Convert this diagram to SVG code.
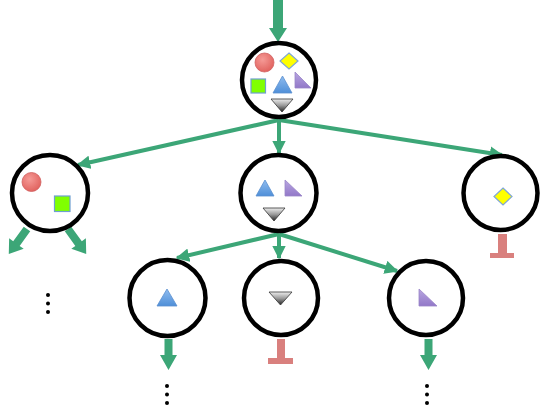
<svg xmlns="http://www.w3.org/2000/svg" width="540" height="407" viewBox="0 0 540 407">
<style>
.node{fill:#fff;stroke:#000;stroke-width:4.5}
.ln{stroke:#3ca677;stroke-width:4;fill:none}
.fat{fill:#3ca677}
.stop{fill:#d9807e}
.dot{fill:#000}
.red{fill:url(#gRed);stroke:#d06060;stroke-width:0.8}
.yel{fill:#ffff00;stroke:#7fa6d6;stroke-width:1.2}
.grn{fill:#80ff00;stroke:#6f9fd0;stroke-width:1.2}
.blu{fill:url(#gBlue);stroke:#5a8fcf;stroke-width:0.8}
.pur{fill:url(#gPur);stroke:#9a85c8;stroke-width:0.8}
.gry{fill:url(#gGray);stroke:#333;stroke-width:0.8}
</style>
<defs>
<radialGradient id="gRed" cx="0.4" cy="0.35" r="0.7"><stop offset="0" stop-color="#f59a96"/><stop offset="1" stop-color="#e0605c"/></radialGradient>
<linearGradient id="gBlue" x1="0" y1="0" x2="0" y2="1"><stop offset="0" stop-color="#8fbcef"/><stop offset="1" stop-color="#4f8fd8"/></linearGradient>
<linearGradient id="gPur" x1="0" y1="0" x2="0" y2="1"><stop offset="0" stop-color="#b8a6e0"/><stop offset="1" stop-color="#9278c8"/></linearGradient>
<linearGradient id="gGray" x1="0" y1="0" x2="0" y2="1"><stop offset="0" stop-color="#eeeeee"/><stop offset="0.5" stop-color="#999"/><stop offset="1" stop-color="#222"/></linearGradient>
<marker id="ah" viewBox="0 0 10 10" refX="9" refY="5" markerWidth="3.4" markerHeight="3.4" orient="auto" markerUnits="strokeWidth"><path d="M0,0 L10,5 L0,10 z" fill="#3ca677"/></marker>
</defs>

<g id="connectors">
<polygon class="fat" points="273,0 283,0 283,28 287,28 278,42 269,28 273,28"/>
<line class="ln" x1="279" y1="120" x2="78" y2="165" marker-end="url(#ah)"/>
<line class="ln" x1="279" y1="120" x2="279" y2="153" marker-end="url(#ah)"/>
<line class="ln" x1="279" y1="120" x2="502" y2="155" marker-end="url(#ah)"/>
<line class="ln" x1="279" y1="234" x2="177" y2="258" marker-end="url(#ah)"/>
<line class="ln" x1="279" y1="234" x2="279" y2="258" marker-end="url(#ah)"/>
<line class="ln" x1="279" y1="234" x2="397" y2="271" marker-end="url(#ah)"/>
<g transform="translate(27,229) rotate(126)"><polygon class="fat" points="0,-4 18,-4 18,-9 31,0 18,9 18,4 0,4"/></g>
<g transform="translate(68,229) rotate(54)"><polygon class="fat" points="0,-4 18,-4 18,-9 31,0 18,9 18,4 0,4"/></g>
<polygon class="fat" points="164.5,339 172.5,339 172.5,355 177,355 168.5,370 160,355 164.5,355"/>
<polygon class="fat" points="424.5,339 432.5,339 432.5,355 437,355 428.5,370 420,355 424.5,355"/>
<polygon class="stop" points="498,234 507,234 507,253 514,253 514,258 490,258 490,253 498,253"/>
<polygon class="stop" points="277,339 285,339 285,358 293,358 293,364 268,364 268,358 277,358"/>
</g>

<g id="root">
<circle class="node" cx="279" cy="80" r="37"/>
<circle class="red" cx="264.5" cy="62.5" r="9.5"/>
<polygon class="yel" points="289,53 298,61 289,69 280,61"/>
<rect class="grn" x="251" y="79" width="14.5" height="14"/>
<polygon class="blu" points="282.5,76 292,93 273,93"/>
<polygon class="pur" points="295,72 311,88 295,88"/>
<polygon class="gry" points="271,99 293,99 282,112"/>
</g>

<g id="left">
<circle class="node" cx="50" cy="193" r="38"/>
<circle class="red" cx="31.5" cy="182" r="9.5"/>
<rect class="grn" x="54.5" y="196" width="15.5" height="15.5"/>
</g>

<g id="middle">
<circle class="node" cx="278.5" cy="193" r="38"/>
<polygon class="blu" points="265,180 274,196 256,196"/>
<polygon class="pur" points="285,180 302,196 285,196"/>
<polygon class="gry" points="263,208 285,208 274,221"/>
</g>

<g id="right">
<circle class="node" cx="500.5" cy="193" r="37"/>
<polygon class="yel" points="503,188 512,196.5 503,205 494,196.5"/>
</g>

<g id="bottom-left">
<circle class="node" cx="167.5" cy="298" r="38"/>
<polygon class="blu" points="167,289 177,306 157,306"/>
</g>

<g id="bottom-middle">
<circle class="node" cx="281" cy="298" r="37"/>
<polygon class="gry" points="269,292 292,292 280.5,305"/>
</g>

<g id="bottom-right">
<circle class="node" cx="426" cy="298" r="37"/>
<polygon class="pur" points="419,289 437,306 419,306"/>
</g>

<g id="ellipses">
<circle class="dot" cx="48" cy="295" r="2"/><circle class="dot" cx="48" cy="303.5" r="2"/><circle class="dot" cx="48" cy="312" r="2"/>
<circle class="dot" cx="167" cy="386" r="2"/><circle class="dot" cx="167" cy="394.5" r="2"/><circle class="dot" cx="167" cy="403" r="2"/>
<circle class="dot" cx="427" cy="386" r="2"/><circle class="dot" cx="427" cy="394.5" r="2"/><circle class="dot" cx="427" cy="403" r="2"/>
</g>
</svg>
